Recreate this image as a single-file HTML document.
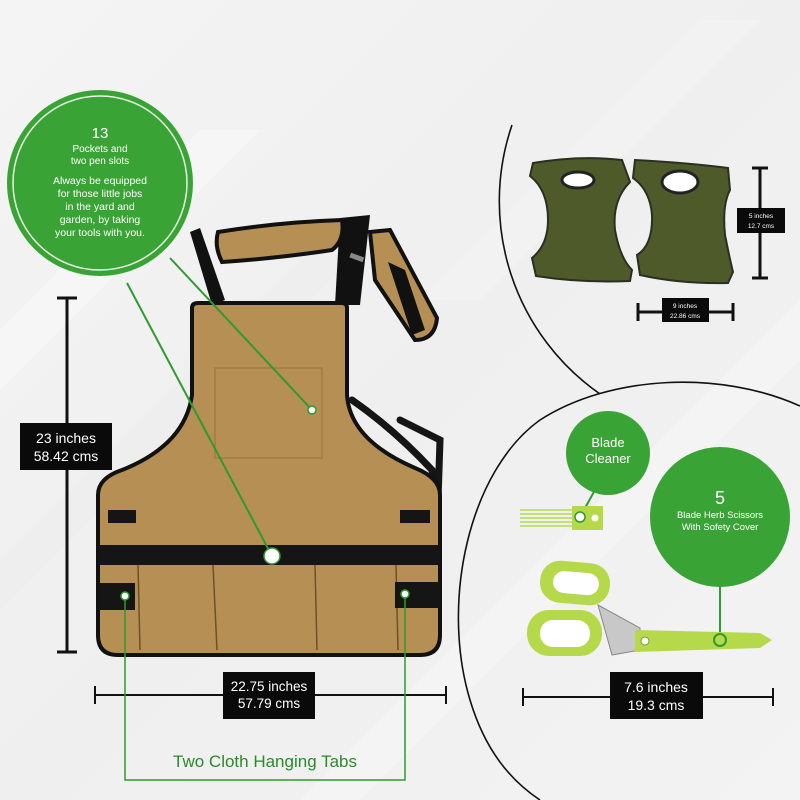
<!DOCTYPE html>
<html><head><meta charset="utf-8"><style>
html,body{margin:0;padding:0;width:800px;height:800px;overflow:hidden;background:#f2f2f2}
svg{display:block}
text{font-family:"Liberation Sans","DejaVu Sans",sans-serif}
</style></head><body>
<svg width="800" height="800" viewBox="0 0 800 800" xmlns="http://www.w3.org/2000/svg">
<defs>
<linearGradient id="bg" x1="0" y1="0" x2="1" y2="1">
<stop offset="0" stop-color="#f4f4f4"/><stop offset="0.5" stop-color="#efefef"/><stop offset="1" stop-color="#f3f3f3"/>
</linearGradient>
</defs>
<rect width="800" height="800" fill="url(#bg)"/>
<polygon points="0,330 200,130 260,130 0,390" fill="#f8f8f8" opacity="0.6"/>
<polygon points="0,560 330,230 380,230 0,610" fill="#ebebeb" opacity="0.4"/>
<polygon points="300,800 800,300 800,360 360,800" fill="#f8f8f8" opacity="0.5"/>
<polygon points="420,300 700,20 760,20 480,300" fill="#f8f8f8" opacity="0.4"/>

<!-- arcs -->
<path d="M512,125 A235,235 0 0 0 600,394" fill="none" stroke="#111" stroke-width="1.6"/>
<path d="M800,406 C720,370 610,375 540,420 C470,470 440,600 470,700 C485,750 510,780 540,800" fill="none" stroke="#111" stroke-width="1.6"/>

<!-- dimensions -->
<g stroke="#111" stroke-width="3" fill="none">
<line x1="67" y1="298" x2="67" y2="652"/><line x1="57" y1="298" x2="77" y2="298"/><line x1="57" y1="652" x2="77" y2="652"/>
<line x1="95" y1="695" x2="446" y2="695" stroke-width="2"/><line x1="95" y1="686" x2="95" y2="704" stroke-width="2"/><line x1="446" y1="686" x2="446" y2="704" stroke-width="2"/>
<line x1="523" y1="697" x2="773" y2="697" stroke-width="2"/><line x1="523" y1="688" x2="523" y2="706" stroke-width="2"/><line x1="773" y1="688" x2="773" y2="706" stroke-width="2"/>
<line x1="760" y1="168" x2="760" y2="278"/><line x1="752" y1="168" x2="768" y2="168"/><line x1="752" y1="278" x2="768" y2="278"/>
<line x1="638" y1="312" x2="733" y2="312"/><line x1="638" y1="303" x2="638" y2="321"/><line x1="733" y1="303" x2="733" y2="321"/>
</g>
<rect x="20" y="423" width="92" height="47" fill="#0a0a0a"/>
<text x="66" y="443" fill="#fff" font-size="14" text-anchor="middle">23 inches</text>
<text x="66" y="461" fill="#fff" font-size="14" text-anchor="middle">58.42 cms</text>
<rect x="223" y="672" width="92" height="47" fill="#0a0a0a"/>
<text x="269" y="691" fill="#fff" font-size="13.5" text-anchor="middle">22.75 inches</text>
<text x="269" y="708" fill="#fff" font-size="13.5" text-anchor="middle">57.79 cms</text>
<rect x="610" y="672" width="93" height="47" fill="#0a0a0a"/>
<text x="656" y="692" fill="#fff" font-size="14" text-anchor="middle">7.6 inches</text>
<text x="656" y="710" fill="#fff" font-size="14" text-anchor="middle">19.3 cms</text>
<rect x="737" y="208" width="48" height="25" fill="#0a0a0a"/>
<text x="761" y="218" fill="#fff" font-size="6.5" text-anchor="middle">5 inches</text>
<text x="761" y="228" fill="#fff" font-size="6.5" text-anchor="middle">12.7 cms</text>
<rect x="662" y="298" width="47" height="24" fill="#0a0a0a"/>
<text x="685" y="308" fill="#fff" font-size="6.5" text-anchor="middle">9 inches</text>
<text x="685" y="318" fill="#fff" font-size="6.5" text-anchor="middle">22.86 cms</text>

<!-- apron straps -->
<path d="M190,232 L200,228 L225,300 L212,305 Z" fill="#111"/>
<path d="M340,218 L370,215 L360,305 L335,305 Z" fill="#111"/>
<path d="M218,232 Q280,222 342,220 Q345,240 332,250 Q280,258 222,262 Q214,246 218,232 Z" fill="#b68f55" stroke="#111" stroke-width="4"/>
<path d="M370,232 L390,230 L437,318 Q435,340 415,340 L375,280 Z" fill="#b68f55" stroke="#111" stroke-width="4"/>
<path d="M388,262 L405,270 L425,330 L412,335 Z" fill="#111"/>
<rect x="350" y="255" width="14" height="5" fill="#888" transform="rotate(20 357 257)"/>
<g stroke="#151515" stroke-width="7" fill="none" stroke-linecap="round">
<path d="M352,400 Q395,430 432,470 L436,510"/>
<path d="M400,420 L440,440 L438,500"/>
<path d="M185,430 Q150,460 112,488"/>
</g>
<rect x="424" y="495" width="16" height="20" fill="#222"/>
<!-- apron body -->
<path d="M192,308 Q192,303 198,303 L342,303 Q347,303 347,308 L347,395 Q350,440 415,468 Q440,478 440,495 L440,635 Q440,655 420,655 L118,655 Q98,655 98,635 L98,495 Q98,478 122,470 Q185,445 192,395 Z" fill="#b68f55" stroke="#111" stroke-width="4"/>
<rect x="215" y="368" width="107" height="90" fill="none" stroke="#9c7740" stroke-width="1.2"/>
<rect x="99" y="545" width="341" height="20" fill="#151515"/>
<g stroke="#6e5128" stroke-width="1.5">
<line x1="138" y1="565" x2="140" y2="650"/><line x1="213" y1="565" x2="217" y2="650"/><line x1="315" y1="565" x2="317" y2="650"/><line x1="396" y1="565" x2="398" y2="650"/>
</g>
<rect x="99" y="583" width="36" height="27" fill="#151515"/>
<rect x="395" y="582" width="45" height="26" fill="#151515"/>
<rect x="108" y="510" width="28" height="13" fill="#151515"/>
<rect x="400" y="510" width="30" height="13" fill="#151515"/>

<!-- green callout lines -->
<g stroke="#2f9a2f" stroke-width="2" fill="none">
<line x1="170" y1="258" x2="312" y2="410"/>
<line x1="127" y1="283" x2="272" y2="556"/>
<polyline points="125,596 125,780 405,780 405,594" stroke-width="1.5"/>
<line x1="720" y1="585" x2="720" y2="640"/>
<line x1="595" y1="490" x2="580" y2="517"/>
</g>
<circle cx="312" cy="410" r="4" fill="#fff" stroke="#2f9a2f" stroke-width="1.5"/>
<circle cx="272" cy="556" r="8" fill="#fff" stroke="#2f9a2f" stroke-width="1.5"/>
<circle cx="125" cy="596" r="4" fill="#fff" stroke="#2f9a2f" stroke-width="1.5"/>
<circle cx="405" cy="594" r="4" fill="#fff" stroke="#2f9a2f" stroke-width="1.5"/>
<text x="265" y="767" fill="#2a8a2a" font-size="17" text-anchor="middle">Two Cloth Hanging Tabs</text>

<!-- big green circle -->
<circle cx="100" cy="183" r="93" fill="#3aa335"/>
<circle cx="100" cy="183" r="87" fill="none" stroke="#e8f4e4" stroke-width="1.5"/>
<g fill="#fff" text-anchor="middle">
<text x="100" y="138" font-size="15">13</text>
<text x="100" y="152" font-size="10">Pockets and</text>
<text x="100" y="164" font-size="10">two pen slots</text>
<text x="100" y="184" font-size="10.5">Always be equipped</text>
<text x="100" y="197" font-size="10.5">for those little jobs</text>
<text x="100" y="210" font-size="10.5">in the yard and</text>
<text x="100" y="223" font-size="10.5">garden, by taking</text>
<text x="100" y="236" font-size="10.5">your tools with you.</text>
</g>

<!-- knee pads -->
<path d="M533,163 Q580,155 622,160 L630,182 Q612,200 615,230 Q620,258 632,270 L630,281 Q580,283 536,276 L532,258 Q548,245 548,220 Q548,190 530,176 Z" fill="#4f5a2b" stroke="#2a2f22" stroke-width="2"/>
<ellipse cx="578" cy="180" rx="16" ry="8" fill="#fff" stroke="#222" stroke-width="3"/>
<path d="M635,160 Q690,163 728,168 L730,190 Q722,205 725,235 Q730,260 733,272 L728,283 Q680,284 640,275 L637,255 Q653,245 652,215 Q650,190 633,178 Z" fill="#4f5a2b" stroke="#2a2f22" stroke-width="2"/>
<ellipse cx="680" cy="182" rx="18" ry="11" fill="#fff" stroke="#222" stroke-width="3"/>

<!-- blade cleaner -->
<circle cx="608" cy="453" r="42" fill="#3aa335"/>
<text x="608" y="447" fill="#fff" font-size="13" text-anchor="middle">Blade</text>
<text x="608" y="463" fill="#fff" font-size="13" text-anchor="middle">Cleaner</text>
<rect x="572" y="506" width="31" height="24" fill="#b5d94a"/>
<g stroke="#b5d94a" stroke-width="1.5"><line x1="520" y1="510" x2="572" y2="510"/><line x1="520" y1="514" x2="572" y2="514"/><line x1="520" y1="518" x2="572" y2="518"/><line x1="520" y1="522" x2="572" y2="522"/><line x1="520" y1="526" x2="572" y2="526"/></g>
<circle cx="580" cy="517" r="5" fill="#fff" stroke="#2f9a2f" stroke-width="1.5"/>
<circle cx="595" cy="518" r="3.5" fill="#fff"/>

<!-- big scissors circle -->
<circle cx="720" cy="517" r="70" fill="#3aa335"/>
<text x="720" y="504" fill="#fff" font-size="18" text-anchor="middle">5</text>
<text x="720" y="518" fill="#fff" font-size="9.5" text-anchor="middle">Blade Herb Scissors</text>
<text x="720" y="530" fill="#fff" font-size="9.5" text-anchor="middle">With Sofety Cover</text>

<!-- scissors -->
<path d="M598,605 L640,628 L640,650 L612,655 Z" fill="#c8c8c8" stroke="#888"/>
<rect x="540" y="562" width="70" height="42" rx="20" fill="#b5d94a" transform="rotate(5 575 583)"/>
<rect x="553" y="572" width="46" height="22" rx="11" fill="#fff" transform="rotate(5 575 583)"/>
<rect x="527" y="610" width="75" height="46" rx="22" fill="#b5d94a"/>
<rect x="540" y="620" width="50" height="27" rx="13" fill="#fff"/>
<polygon points="635,630 760,633 772,640 760,648 635,652" fill="#b5d94a"/>
<circle cx="645" cy="641" r="4" fill="#fff" stroke="#7a9a2a"/>
<circle cx="720" cy="640" r="6" fill="#b5d94a" stroke="#2f9a2f" stroke-width="2"/>
</svg>
</body></html>
